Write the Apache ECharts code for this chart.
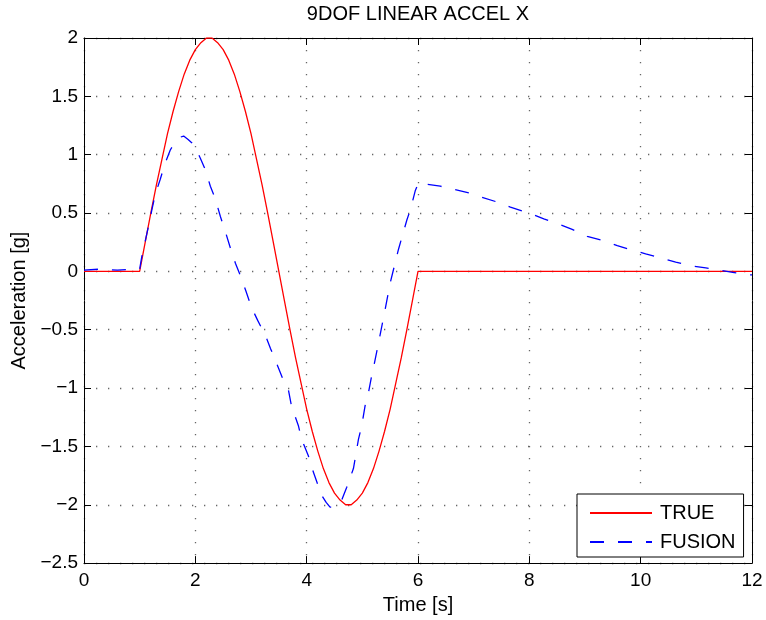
<!DOCTYPE html>
<html>
<head>
<meta charset="utf-8">
<script src="https://cdn.jsdelivr.net/npm/echarts@6/dist/echarts.min.js"></script>
<style>
html,body{margin:0;padding:0;background:#fff;}
#chart{width:766px;height:620px;}
</style>
</head>
<body>
<div id="chart"></div>
<script>
const xTicks = [0, 2, 4, 6, 8, 10, 12];
const yTicks = [-2.5, -2, -1.5, -1, -0.5, 0, 0.5, 1, 1.5, 2];

const trueTime = [0, 1.0, 1.1, 1.2, 1.3, 1.4, 1.5, 1.6, 1.7, 1.8, 1.9, 2.0, 2.1, 2.2, 2.3, 2.4, 2.5, 2.6, 2.7, 2.8, 2.9, 3.0,
  3.1, 3.2, 3.3, 3.4, 3.5, 3.6, 3.7, 3.8, 3.9, 4.0, 4.1, 4.2, 4.3, 4.4, 4.5, 4.6, 4.7, 4.8, 4.9, 5.0,
  5.1, 5.2, 5.3, 5.4, 5.5, 5.6, 5.7, 5.8, 5.9, 6.0, 12];
const trueAccel = [0, 0, 0.25, 0.50, 0.74, 0.96, 1.18, 1.37, 1.54, 1.69, 1.81, 1.90, 1.96, 2.00, 2.00, 1.96, 1.90, 1.81, 1.69, 1.54, 1.37, 1.18,
  0.96, 0.74, 0.50, 0.25, 0, -0.25, -0.50, -0.74, -0.96, -1.18, -1.37, -1.54, -1.69, -1.81, -1.90, -1.96, -2.00, -2.00, -1.96, -1.90,
  -1.81, -1.69, -1.54, -1.37, -1.18, -0.96, -0.74, -0.50, -0.25, 0, 0];

const fusionTime = [0, 0.3, 0.6, 0.9, 1.0, 1.04, 1.10, 1.16, 1.22, 1.28, 1.37, 1.46, 1.55, 1.65, 1.73, 1.79, 1.87, 1.94, 2.02, 2.09,
  2.18, 2.27, 2.36, 2.45, 2.54, 2.63, 2.72, 2.82, 2.91, 3.01, 3.12, 3.26, 3.35, 3.47, 3.57, 3.67, 3.73, 3.85, 3.91, 4.03,
  4.12, 4.27, 4.35, 4.42, 4.50, 4.56, 4.63, 4.72, 4.84, 4.93, 4.99, 5.05, 5.11, 5.17, 5.22, 5.30, 5.40, 5.50, 5.65, 5.71,
  5.80, 5.87, 5.95, 6.01, 6.10, 6.40, 6.58, 6.94, 7.12, 7.45, 7.66, 7.99, 8.26, 8.56, 8.77, 9.04, 9.28, 9.58, 9.79, 10.09,
  10.33, 10.63, 10.87, 11.17, 11.41, 11.68, 11.95, 12];
const fusionAccel = [0.01, 0.02, 0.01, 0.02, 0.02, 0.13, 0.26, 0.39, 0.53, 0.66, 0.79, 0.93, 1.04, 1.12, 1.15, 1.16, 1.13, 1.10, 1.04, 0.97,
  0.87, 0.73, 0.62, 0.47, 0.34, 0.20, 0.07, -0.05, -0.17, -0.31, -0.42, -0.55, -0.66, -0.80, -0.92, -1.01, -1.16, -1.32, -1.44, -1.58,
  -1.72, -1.92, -1.98, -2.02, -2.02, -2.00, -1.96, -1.85, -1.69, -1.44, -1.32, -1.15, -1.04, -0.89, -0.78, -0.59, -0.35, -0.10, 0.19, 0.29,
  0.44, 0.54, 0.69, 0.76, 0.75, 0.73, 0.71, 0.67, 0.64, 0.59, 0.55, 0.50, 0.45, 0.40, 0.36, 0.30, 0.27, 0.22, 0.19, 0.15,
  0.12, 0.08, 0.05, 0.03, 0.01, -0.01, -0.03, -0.03];

const FONT = '"Liberation Sans", Arial, Helvetica, sans-serif';
const fmt = v => String(v).replace('-', '\u2212');

const chart = echarts.init(document.getElementById('chart'), null, {renderer: 'canvas'});

const axisCommon = {
  axisLine: {show: true, onZero: false, lineStyle: {color: '#000', width: 1}},
  axisTick: {show: true, inside: true, length: 7, lineStyle: {color: '#000', width: 1}},
};

chart.setOption({
  backgroundColor: '#fff',
  animation: false,
  title: {
    text: '9DOF LINEAR ACCEL X',
    left: 418, top: 4, textAlign: 'center', padding: 0,
    textStyle: {fontFamily: FONT, fontSize: 20, fontWeight: 'normal', color: '#000'}
  },
  legend: {
    orient: 'vertical',
    left: 577, top: 494,
    padding: [9, 8, 5, 12],
    itemWidth: 62, itemHeight: 14, itemGap: 9,
    backgroundColor: '#fff',
    borderColor: '#000', borderWidth: 1, borderRadius: 0,
    itemStyle: {opacity: 0},
    textStyle: {fontFamily: FONT, fontSize: 20, lineHeight: 16, color: '#000', padding: [0, 0, 0, 3]},
    data: ['TRUE', 'FUSION']
  },
  grid: {left: 84, right: 14, top: 38, bottom: 56, containLabel: false},
  xAxis: [
    Object.assign({
      type: 'value', position: 'bottom', min: xTicks[0], max: xTicks[xTicks.length - 1], interval: 2,
      name: 'Time [s]', nameLocation: 'middle', nameGap: 30,
      nameTextStyle: {fontFamily: FONT, fontSize: 20, color: '#000'},
      axisLabel: {margin: 8, fontFamily: FONT, fontSize: 19, color: '#000', formatter: fmt},
      splitLine: {show: true, lineStyle: {color: '#666', width: 1.3, type: [1.3, 10.7]}}
    }, axisCommon),
    Object.assign({
      type: 'value', position: 'top', min: xTicks[0], max: xTicks[xTicks.length - 1], interval: 2,
      axisLabel: {show: false}, splitLine: {show: false}
    }, axisCommon)
  ],
  yAxis: [
    Object.assign({
      type: 'value', position: 'left', min: yTicks[0], max: yTicks[yTicks.length - 1], interval: 0.5,
      name: 'Acceleration [g]', nameLocation: 'middle', nameGap: 50,
      nameTextStyle: {fontFamily: FONT, fontSize: 20, color: '#000'},
      axisLabel: {margin: 6, fontFamily: FONT, fontSize: 19, color: '#000', formatter: fmt},
      splitLine: {show: true, lineStyle: {color: '#666', width: 1.3, type: [1.3, 10.7]}}
    }, axisCommon),
    Object.assign({
      type: 'value', position: 'right', min: yTicks[0], max: yTicks[yTicks.length - 1], interval: 0.5,
      axisLabel: {show: false}, splitLine: {show: false}
    }, axisCommon)
  ],
  series: [
    {
      name: 'TRUE', type: 'line', symbol: 'none', xAxisIndex: 0, yAxisIndex: 0,
      lineStyle: {color: '#ff0000', width: 1.3},
      itemStyle: {color: '#ff0000'},
      data: trueTime.map((t, i) => [t, trueAccel[i]])
    },
    {
      name: 'FUSION', type: 'line', symbol: 'none', xAxisIndex: 0, yAxisIndex: 0,
      lineStyle: {color: '#0000ff', width: 1.3, type: [14, 14]},
      itemStyle: {color: '#0000ff'},
      data: fusionTime.map((t, i) => [t, fusionAccel[i]])
    }
  ]
});
</script>
</body>
</html>
